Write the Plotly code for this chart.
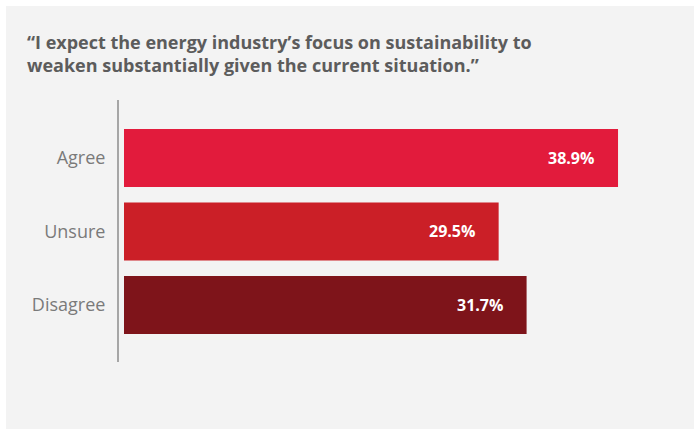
import plotly.graph_objects as go

# Survey responses
categories = ["Agree", "Unsure", "Disagree"]
values = [38.9, 29.5, 31.7]
value_labels = ["38.9%", "29.5%", "31.7%"]
bar_colors = ["#e21b3c", "#cb1f27", "#7e141a"]
title_lines = [
    "\u201cI expect the energy industry\u2019s focus on sustainability to",
    "weaken substantially given the current situation.\u201d",
]

W, H = 694, 435
ML, MR, MT, MB = 119, 20, 100, 73
plot_w = W - ML - MR
plot_h = H - MT - MB
PX_PER_UNIT = 12.7


def px_x(px):
    return (px - ML) / plot_w


def px_y(py):
    return (H - MB - py) / plot_h


ypos = list(range(len(categories)))

fig = go.Figure(
    go.Bar(
        x=values,
        y=ypos,
        orientation="h",
        marker=dict(color=bar_colors, line=dict(width=0)),
        width=0.79,
        hoverinfo="skip",
    )
)

# value labels inside the bar ends
for v, lab, yy in zip(values, value_labels, ypos):
    fig.add_annotation(
        x=v, y=yy, xref="x", yref="y",
        text=f"<b>{lab}</b>", showarrow=False,
        xanchor="right", yanchor="middle", xshift=-22,
        font=dict(family="Open Sans", size=16, color="white"),
    )

# quoted heading, two lines
for i, line in enumerate(title_lines):
    fig.add_annotation(
        x=px_x(25), y=px_y(42 + 23 * i), xref="paper", yref="paper",
        text=f"<b>{line}</b>", showarrow=False,
        xanchor="left", yanchor="middle",
        font=dict(family="Open Sans", size=18, color="#5c5c5c"),
    )

# light grey panel
fig.add_shape(
    type="rect", xref="paper", yref="paper",
    x0=px_x(6), x1=px_x(700), y0=px_y(429), y1=px_y(6),
    fillcolor="#f3f3f3", line=dict(width=0), layer="below",
)

fig.update_layout(
    width=W, height=H,
    margin=dict(l=ML, r=MR, t=MT, b=MB),
    paper_bgcolor="white",
    plot_bgcolor="rgba(0,0,0,0)",
    showlegend=False,
    xaxis=dict(
        range=[-5 / PX_PER_UNIT, (plot_w - 5) / PX_PER_UNIT],
        visible=False, fixedrange=True,
    ),
    yaxis=dict(
        range=[2.777, -0.79],
        tickvals=ypos, ticktext=categories,
        showline=True, linecolor="#a6a6a6", linewidth=2,
        showgrid=False, zeroline=False, ticks="",
        ticklabelstandoff=8,
        tickfont=dict(family="Open Sans", size=18, color="#7a7a7a"),
        fixedrange=True,
    ),
)

fig.write_html("out.html")
